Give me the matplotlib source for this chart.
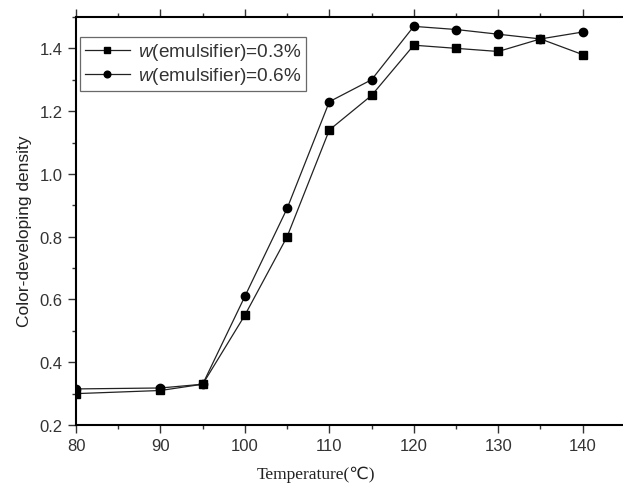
import matplotlib.pyplot as plt
from matplotlib.ticker import MultipleLocator

temps = [80, 90, 95, 100, 105, 110, 115, 120, 125, 130, 135, 140]
dens_03 = [0.30, 0.31, 0.33, 0.55, 0.80, 1.14, 1.25, 1.41, 1.40, 1.39, 1.43, 1.38]
dens_06 = [0.315, 0.318, 0.33, 0.61, 0.89, 1.23, 1.30, 1.47, 1.46, 1.445, 1.43, 1.452]
labels = [r'$\it{w}$(emulsifier)=0.3%', r'$\it{w}$(emulsifier)=0.6%']

plt.rcParams['font.family'] = ['Liberation Sans', 'DejaVu Sans']
plt.rcParams['mathtext.fontset'] = 'custom'
plt.rcParams['mathtext.it'] = 'Liberation Sans:italic'

fig = plt.figure(figsize=(6.23, 4.85), dpi=100)
ax = fig.add_axes([0.122, 0.1216, 0.877, 0.8414])

ax.plot(temps, dens_03, color='#222', lw=0.9, marker='s', ms=5.5, mfc='black', mec='black', label=labels[0])
ax.plot(temps, dens_06, color='#222', lw=0.9, marker='o', ms=6, mfc='black', mec='black', label=labels[1])

ax.set_xlim(80, 144.7)
ax.set_ylim(0.2, 1.5)
ax.xaxis.set_major_locator(MultipleLocator(10))
ax.xaxis.set_minor_locator(MultipleLocator(5))
ax.yaxis.set_major_locator(MultipleLocator(0.2))
ax.yaxis.set_minor_locator(MultipleLocator(0.1))
ax.tick_params(which='both', direction='out', top=True, right=False, labelsize=12, colors='#333')
ax.tick_params(which='major', length=6, width=1)
ax.tick_params(which='minor', length=3, width=1)
ax.spines['right'].set_visible(False)
for s in ['left', 'bottom', 'top']:
    ax.spines[s].set_linewidth(1.5)

ax.set_ylabel('Color-developing density', fontsize=12.5, color='#222')
ax.yaxis.set_label_coords(-0.08, 0.478)
ax.set_xlabel('Temperature(℃)', fontsize=12.5, color='#222', family=['Liberation Serif', 'DejaVu Sans'])
ax.xaxis.set_label_coords(0.44, -0.1)

leg = ax.legend(loc='upper left', bbox_to_anchor=(0.0, 0.961), fontsize=13.7, frameon=True,
                fancybox=False, edgecolor='#444', handlelength=2.4, borderpad=0.25,
                labelspacing=0.15, handletextpad=0.4, borderaxespad=0.2, markerscale=0.8,
                labelcolor='#333')
leg.get_frame().set_linewidth(0.9)

fig.savefig('out.png', dpi=100)
